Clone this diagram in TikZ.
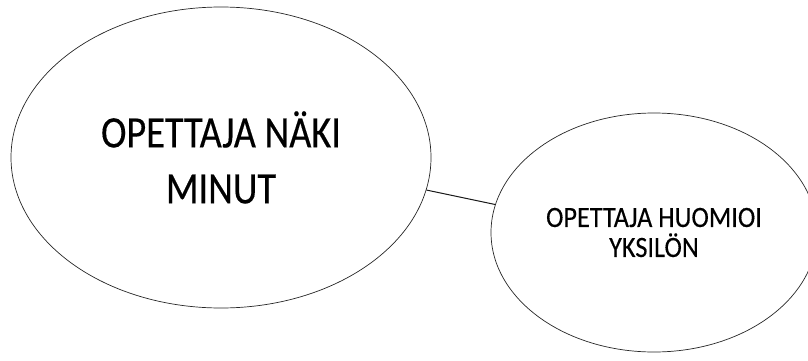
\documentclass[tikz,border=0pt]{standalone}
\usepackage{fontspec}
\setmainfont{Carlito}
\newfontfamily\widelabel[FakeStretch=0.85,FakeBold=0.3]{Carlito}
\newfontfamily\narrowlabel[FakeStretch=0.89,FakeBold=0.3]{Carlito}
\usetikzlibrary{shapes.geometric}
\begin{document}
\begin{tikzpicture}[x=1pt,y=1pt,
  bubble/.style={ellipse, draw=black!85, line width=0.7pt, inner sep=0pt, align=center},
  link/.style={draw=black!90, line width=1pt}]
  \useasboundingbox (0,0) rectangle (808,360);
  \node[bubble, minimum width=420pt, minimum height=301pt,
        font=\widelabel\fontsize{45}{56}\selectfont] (big) at (221,202.5)
        {OPETTAJA NÄKI\\MINUT};
  \node[bubble, minimum width=326pt, minimum height=239pt,
        font=\narrowlabel\fontsize{29.5}{30}\selectfont] (small) at (654,127.5)
        {OPETTAJA HUOMIOI\\YKSILÖN};
  \draw[link] (big.-9.9) -- (small.170.2);
\end{tikzpicture}
\end{document}
